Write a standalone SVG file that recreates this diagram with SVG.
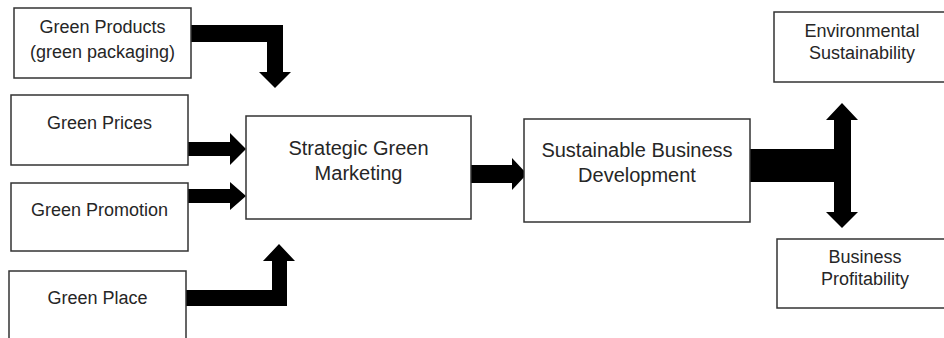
<svg xmlns="http://www.w3.org/2000/svg" width="944" height="338" viewBox="0 0 944 338">
<style>
.box{fill:#fff;stroke:#333;stroke-width:1.5}
.t{font-family:"Liberation Sans",Arial,sans-serif;fill:#262626;text-anchor:middle}
.s18{font-size:18px}
.s20{font-size:20px}
.arr{fill:#000}
</style>
<rect width="944" height="338" fill="#fff"/>
<g id="connectors">
<polygon class="arr" points="191,25 283,25 283,72 291,72 275,88 259,72 267,72 267,42 191,42"/>
<polygon class="arr" points="188,142 230,142 230,133 246,149 230,165 230,156 188,156"/>
<polygon class="arr" points="188,189 230,189 230,182 246,196 230,210 230,203 188,203"/>
<polygon class="arr" points="186,306 287,306 287,261 295,261 279,244 263,261 272,261 272,290 186,290"/>
<polygon class="arr" points="471,165 512,165 512,158 527,174 512,190 512,183 471,183"/>
<polygon class="arr" points="750,149 834,149 834,120 826,120 842,103 858,120 851,120 851,212 858,212 842,228 826,212 834,212 834,182 750,182"/>
</g>
<g id="green-products">
<rect class="box" x="14" y="8" width="177" height="70"/>
<text class="t s18" x="102.5" y="33">Green Products</text>
<text class="t s18" x="102.5" y="58">(green packaging)</text>
</g>
<g id="green-prices">
<rect class="box" x="11" y="95" width="177" height="70"/>
<text class="t s18" x="99.5" y="129">Green Prices</text>
</g>
<g id="green-promotion">
<rect class="box" x="11" y="183" width="177" height="68"/>
<text class="t s18" x="99.5" y="216">Green Promotion</text>
</g>
<g id="green-place">
<rect class="box" x="9" y="271" width="177" height="80"/>
<text class="t s18" x="97.5" y="304">Green Place</text>
</g>
<g id="strategic-green-marketing">
<rect class="box" x="246" y="116" width="225" height="103"/>
<text class="t s20" x="358.5" y="155">Strategic Green</text>
<text class="t s20" x="358.5" y="180">Marketing</text>
</g>
<g id="sustainable-business-development">
<rect class="box" x="524" y="119" width="226" height="103"/>
<text class="t s20" x="637" y="157">Sustainable Business</text>
<text class="t s20" x="637" y="182">Development</text>
</g>
<g id="environmental-sustainability">
<rect class="box" x="774" y="12" width="178" height="70"/>
<text class="t s18" x="862" y="37">Environmental</text>
<text class="t s18" x="862" y="59">Sustainability</text>
</g>
<g id="business-profitability">
<rect class="box" x="777" y="239" width="176" height="69"/>
<text class="t s18" x="865" y="263">Business</text>
<text class="t s18" x="865" y="285">Profitability</text>
</g>
</svg>
